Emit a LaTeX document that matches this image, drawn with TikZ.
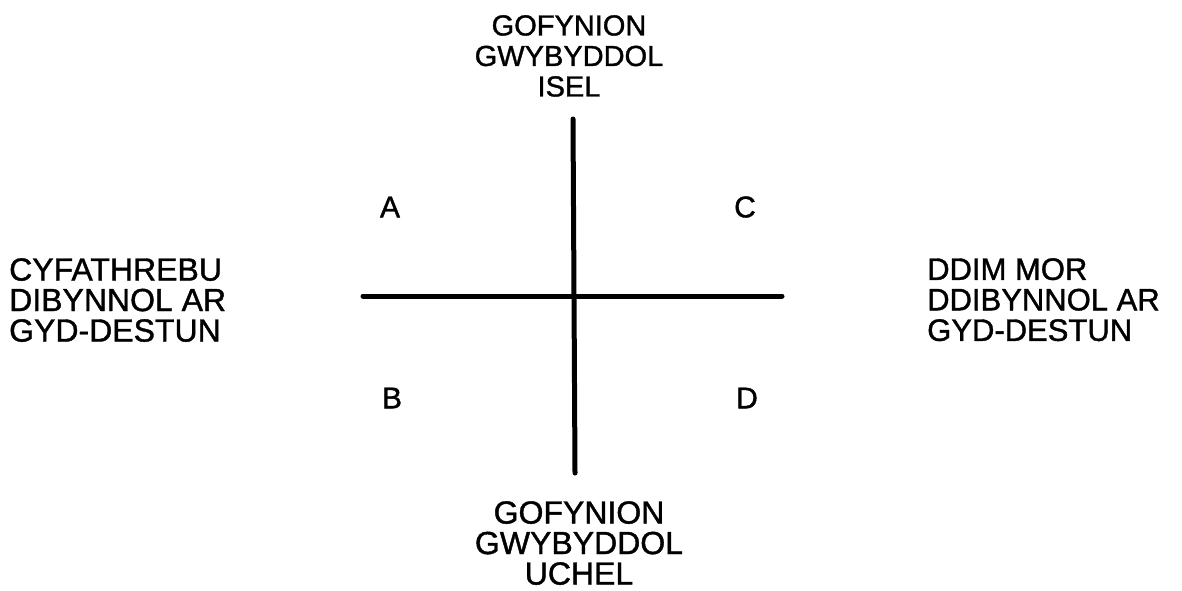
\documentclass[tikz,border=0pt]{standalone}
\usepackage{fontspec}
\setmainfont{Liberation Sans}[FakeBold=1.2]
\begin{document}
\begin{tikzpicture}[x=1pt,y=-1pt,
  lbl/.style={inner sep=0pt,font=\fontsize{30}{30}\selectfont},
  axis/.style={line width=5pt,line cap=round}]
\useasboundingbox (0,0) rectangle (1182,590);
% axes
\coordinate (vt) at (573,119);
\coordinate (vb) at (575,473);
\coordinate (hl) at (363,296);
\coordinate (hr) at (782,296);
\draw[axis] (vt) -- (vb);
\draw[axis] (hl) -- (hr);
% axis labels
\node[lbl,anchor=north,align=center,font=\fontsize{29}{30.5}\selectfont] (top) at (569,15) {GOFYNION\\GWYBYDDOL\\ISEL};
\node[lbl,anchor=north,align=center,font=\fontsize{32}{30.5}\selectfont] (bot) at (579,501) {GOFYNION\\GWYBYDDOL\\UCHEL};
\node[lbl,anchor=north west,align=left,font=\fontsize{32}{30.5}\selectfont] (left) at (9,258) {CYFATHREBU\\DIBYNNOL AR\\GYD-DESTUN};
\node[lbl,anchor=north west,align=left,font=\fontsize{31}{30.5}\selectfont] (right) at (927,258) {DDIM MOR\\DDIBYNNOL AR\\GYD-DESTUN};
% quadrant letters
\node[lbl] (A) at (390,207) {A};
\node[lbl] (C) at (745,207) {C};
\node[lbl] (B) at (392,398) {B};
\node[lbl] (D) at (747,398) {D};
\end{tikzpicture}
\end{document}
